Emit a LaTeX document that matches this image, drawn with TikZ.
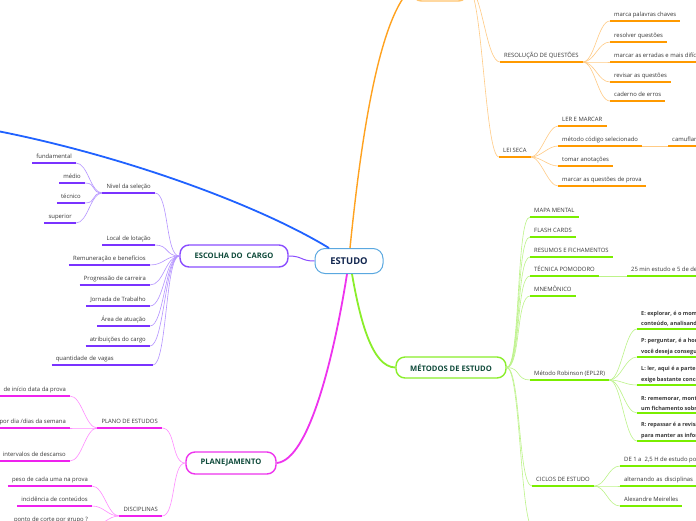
\documentclass[tikz,border=0pt]{standalone}
\usepackage{fontspec}
\setmainfont{Open Sans}
\definecolor{txtgray}{HTML}{383838}
\definecolor{topicgreen}{HTML}{0E4A3A}
\definecolor{estxt}{HTML}{12264F}
\definecolor{estblue}{HTML}{5AA8E0}
\definecolor{bluebr}{HTML}{2062FF}
\definecolor{orgmain}{HTML}{FFA21F}
\definecolor{orgbox}{HTML}{FFC46E}
\definecolor{orgln}{HTML}{FFCB85}
\definecolor{orgul}{HTML}{FF9A00}
\definecolor{purmain}{HTML}{8A4DFF}
\definecolor{purln}{HTML}{B493FF}
\definecolor{purul}{HTML}{7A33FF}
\definecolor{magmain}{HTML}{EE33EE}
\definecolor{magln}{HTML}{FF8CFF}
\definecolor{magul}{HTML}{EE22EE}
\definecolor{grnmain}{HTML}{8AEE2A}
\definecolor{grnln}{HTML}{BDF38A}
\definecolor{grnul}{HTML}{7AEE00}
\begin{document}
\begin{tikzpicture}[x=1pt,y=-1pt,
  lbl/.style={font=\fontsize{5.9}{6.8}\selectfont,text=txtgray,inner xsep=4pt,
    inner ysep=2.4pt,text height=4.4pt,text depth=1.5pt},
  lblR/.style={lbl,anchor=south west},
  lblL/.style={lbl,anchor=south east},
  robin/.style={anchor=south west,font=\fontsize{5.5}{10.3}\selectfont\bfseries,
    text=txtgray,align=left,inner xsep=4pt,inner ysep=2.4pt},
  topic/.style={draw=#1,rounded corners=9pt,line width=1.4pt,fill=white,
    font=\fontsize{7.6}{8.4}\selectfont\bfseries,text=topicgreen,
    minimum height=22pt,inner sep=0pt},
  br/.style={line width=1.8pt,draw=#1},
  ln/.style={line width=0.6pt,draw=#1},
  ul/.style={line width=1.6pt,draw=#1},
]
  \useasboundingbox (0,0) rectangle (696,520);
  \fill[white] (0,0) rectangle (696,520);
  \clip (0,0) rectangle (696,520);

  % main topics
  \node[draw=estblue,rounded corners=10pt,line width=1pt,fill=white,
    minimum width=68pt,minimum height=25pt,inner sep=0pt,
    font=\fontsize{9.4}{10}\selectfont\bfseries,text=estxt] (estudo) at (349,261) {ESTUDO};
  \node[topic=purmain,minimum width=108pt] (esc) at (234,256) {ESCOLHA DO\ \ CARGO};
  \node[topic=magmain,minimum width=90pt] (plan) at (231,463) {PLANEJAMENTO};
  \node[topic=grnmain,minimum width=110pt,minimum height=21pt] (met) at (451,367.5) {MÉTODOS DE ESTUDO};
  \node[topic=orgbox,minimum width=55pt,minimum height=26pt] (rev) at (440,-12) {};

  % orange branch
  \node[lblR] (rq)  at (500,62)  {RESOLUÇÃO DE QUESTÕES};
  \node[lblR] (rq1) at (610,21)  {marca palavras chaves};
  \node[lblR] (rq2) at (610,42)  {resolver questões};
  \node[lblR] (rq3) at (610,62)  {marcar as erradas e mais difíceis};
  \node[lblR] (rq4) at (610,82)  {revisar as questões};
  \node[lblR] (rq5) at (610,101) {caderno de erros};
  \node[lblR] (ls)  at (499,157) {LEI SECA};
  \node[lblR] (ls1) at (558,126) {LER E MARCAR};
  \node[lblR] (ls2) at (558,146) {método código selecionado};
  \node[lblR] (ls2a) at (668,146) {camuflar};
  \node[lblR] (ls3) at (558,166) {tomar anotações};
  \node[lblR] (ls4) at (558,186) {marcar as questões de prova};

  % purple branch
  \node[lblL] (ns)  at (155,193) {Nivel da seleção};
  \node[lblL] (ns1) at (76,163)  {fundamental};
  \node[lblL] (ns2) at (85,183)  {médio};
  \node[lblL] (ns3) at (85,203)  {técnico};
  \node[lblL] (ns4) at (76,223)  {superior};
  \node[lblL] (ec1) at (155,245) {Local de lotação};
  \node[lblL] (ec2) at (150,265) {Remuneração e benefícios};
  \node[lblL] (ec3) at (150,285) {Progressão de carreira};
  \node[lblL] (ec4) at (150,306) {Jornada de Trabalho};
  \node[lblL] (ec5) at (150,326) {Área de atuação};
  \node[lblL] (ec6) at (150,346) {atribuições do cargo};
  \node[lblL,text width=93pt,align=left] (ec7) at (153,365) {quantidade de vagas};

  % magenta branch
  \node[lblL] (pe)  at (162,428) {PLANO DE ESTUDOS};
  \node[lblL] (pe1) at (70,396)  {de início data da prova};
  \node[lblL] (pe2) at (70,428)  {horas por dia /dias da semana};
  \node[lblL] (pe3) at (70,461)  {intervalos de descanso};
  \node[lblL] (di)  at (162,516) {DISCIPLINAS};
  \node[lblL] (di1) at (92,486)  {peso de cada uma na prova};
  \node[lblL] (di2) at (92,506)  {incidência de conteúdos};
  \node[lblL] (di3) at (92,526)  {ponto de corte por grupo ?};

  % green branch
  \node[lblR] (m1) at (530,217) {MAPA MENTAL};
  \node[lblR] (m2) at (530,237) {FLASH CARDS};
  \node[lblR] (m3) at (530,257) {RESUMOS E FICHAMENTOS};
  \node[lblR] (m4) at (530,276) {TÉCNICA POMODORO};
  \node[lblR] (m4a) at (627,276) {25 min estudo e 5 de descanso};
  \node[lblR] (m5) at (530,296) {MNEMÔNICO};
  \node[lblR] (m6) at (530,380) {Método Robinson (EPL2R)};
  \node[robin] (r1) at (637,329) {E: explorar, é o momento de\\conteúdo, analisando};
  \node[robin] (r2) at (637,357) {P: perguntar, é a hora de\\você deseja conseguir};
  \node[robin] (r3) at (637,385) {L: ler, aqui é a parte que\\exige bastante concentração};
  \node[robin] (r4) at (637,413) {R: rememorar, montar\\um fichamento sobre};
  \node[robin] (r5) at (637,441) {R: repassar é a revisão\\para manter as informações};
  \node[lblR] (m7) at (532,486) {CICLOS DE ESTUDO};
  \node[lblR] (c1) at (620,466) {DE 1 a\ \ 2,5 H de estudo por disciplina};
  \node[lblR,text width=80pt,align=left] (c2) at (620,486) {alternando as disciplinas};
  \node[lblR] (c3) at (620,506) {Alexandre Meirelles};
  \coordinate (m8) at (534,530);
  \coordinate (blueend) at (-30,126);

  % main branches
  \draw[br=bluebr] ([xshift=-20pt]estudo.north) .. controls (250,200) and (100,148) .. (blueend);
  \draw[br=orgmain,line width=1.4pt] ([xshift=1pt]estudo.north) .. controls (358,170) and (375,20) .. (rev.west);
  \draw[br=purmain,line width=1pt] (esc.east) .. controls +(14,0) and +(-14,0) .. (estudo.west);
  \draw[br=magmain] ([xshift=-2pt]estudo.south) .. controls (335,350) and (310,460) .. (plan.east);
  \draw[br=grnmain] ([xshift=3pt]estudo.south) .. controls (360,320) and (372,367) .. (met.west);

  % connectors
  \foreach \n in {rq,ls}
    \draw[ln=orgln] (rev.east) .. controls +(14,0) and +(-14,0) .. (\n.south west);
  \foreach \n in {rq1,rq2,rq3,rq4,rq5}
    \draw[ln=orgln] (rq.south east) .. controls +(12,0) and +(-12,0) .. (\n.south west);
  \foreach \n in {ls1,ls2,ls3,ls4}
    \draw[ln=orgln] (ls.south east) .. controls +(10,0) and +(-10,0) .. (\n.south west);
  \draw[ln=orgln] (ls2.south east) -- (ls2a.south west);

  \foreach \n in {ns,ec1,ec2,ec3,ec4,ec5,ec6,ec7}
    \draw[ln=purln] (\n.south east) .. controls +(14,0) and +(-14,0) .. (esc.west);
  \foreach \n in {ns1,ns2,ns3,ns4}
    \draw[ln=purln] (\n.south east) .. controls +(12,0) and +(-12,0) .. (ns.south west);

  \foreach \n in {pe,di}
    \draw[ln=magln] (\n.south east) .. controls +(14,0) and +(-14,0) .. (plan.west);
  \foreach \n in {pe1,pe2,pe3}
    \draw[ln=magln] (\n.south east) .. controls +(12,0) and +(-12,0) .. (pe.south west);
  \foreach \n in {di1,di2,di3}
    \draw[ln=magln] (\n.south east) .. controls +(12,0) and +(-12,0) .. (di.south west);

  \foreach \n in {m1,m2,m3,m4,m5,m6,m7,m8}
    \draw[ln=grnln] (met.east) .. controls +(14,0) and +(-14,0) .. (\n.south west);
  \draw[ln=grnln] (m4.south east) -- (m4a.south west);
  \foreach \n in {r1,r2,r3,r4,r5}
    \draw[ln=grnln] (m6.south east) .. controls +(12,0) and +(-12,0) .. (\n.south west);
  \foreach \n in {c1,c2,c3}
    \draw[ln=grnln] (m7.south east) .. controls +(12,0) and +(-12,0) .. (\n.south west);

  % underlines
  \foreach \n in {rq,rq1,rq2,rq3,rq4,rq5,ls,ls1,ls2,ls2a,ls3,ls4}
    \draw[ul=orgul] (\n.south west) -- (\n.south east);
  \foreach \n in {ns,ns1,ns2,ns3,ns4,ec1,ec2,ec3,ec4,ec5,ec6,ec7}
    \draw[ul=purul] (\n.south west) -- (\n.south east);
  \foreach \n in {pe,pe1,pe2,pe3,di,di1,di2,di3}
    \draw[ul=magul] (\n.south west) -- (\n.south east);
  \foreach \n in {m1,m2,m3,m4,m4a,m5,m6,r1,r2,r3,r4,r5,m7,c1,c2,c3}
    \draw[ul=grnul] (\n.south west) -- (\n.south east);
\end{tikzpicture}
\end{document}
